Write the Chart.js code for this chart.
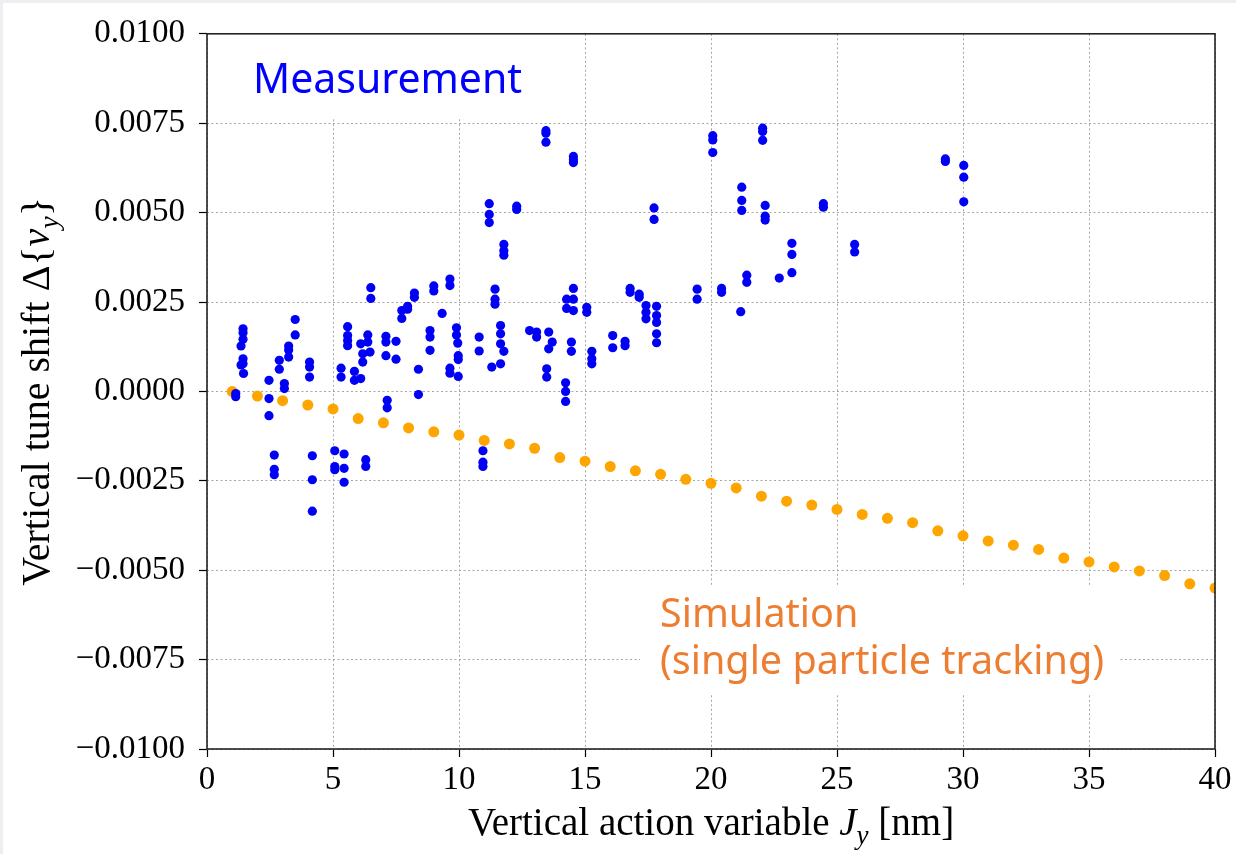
<!DOCTYPE html>
<html>
<head>
<meta charset="utf-8">
<title>Vertical tune shift</title>
<script src="https://cdn.jsdelivr.net/npm/chart.js@4.4.0/dist/chart.umd.min.js"></script>
<style>
  html, body { margin: 0; padding: 0; background: #fff; }
  #wrap { width: 1236px; height: 854px; }
</style>
</head>
<body>
<div id="wrap"><canvas id="tuneChart" width="1236" height="854"></canvas></div>
<script>
// measured tune shift vs. vertical action J_y [nm]
var measJ = [
  1.14, 1.14, 1.43, 1.43, 1.43, 1.35, 1.43, 1.43, 1.35, 1.45,
  2.46, 2.46, 2.46, 2.67, 2.67, 2.67, 2.87, 2.87, 3.07, 3.07,
  3.24, 3.24, 3.24, 3.50, 3.50, 4.07, 4.07, 4.07, 4.18, 4.18, 4.18,
  5.07, 5.07, 5.07, 5.32, 5.32, 5.44, 5.44, 5.44,
  5.58, 5.58, 5.58, 5.58, 5.85, 5.85, 6.10, 6.10, 6.18, 6.18,
  6.38, 6.38, 6.47, 6.30, 6.30, 6.50, 6.50,
  7.10, 7.10, 7.10, 7.15, 7.15, 7.50, 7.50, 7.73, 7.73, 7.96, 7.96,
  8.23, 8.23, 8.39, 8.39, 8.85, 8.85, 8.85, 9.00, 9.00, 9.33,
  9.64, 9.64, 9.64, 9.64, 9.90, 9.90, 9.95, 9.97, 9.97, 9.97,
  10.95, 10.95, 10.95, 10.80, 10.80, 11.20, 11.20, 11.20, 11.30,
  11.43, 11.43, 11.43, 11.65, 11.65, 11.65, 11.65, 11.78,
  11.78, 11.78, 11.78, 12.29, 12.29, 12.80, 13.08, 13.08,
  13.45, 13.45, 13.45, 13.48, 13.48, 13.56, 13.56, 13.70,
  14.23, 14.23, 14.23, 14.27, 14.27, 14.46, 14.46, 14.54, 14.54, 14.54,
  14.54, 14.54, 14.54, 15.07, 15.07, 15.27, 15.27, 15.27,
  16.10, 16.10, 16.59, 16.59, 16.79, 16.79, 17.15, 17.15,
  17.42, 17.42, 17.42, 17.74, 17.74, 17.84, 17.84, 17.84, 17.84, 17.84,
  19.45, 19.45, 20.07, 20.07, 20.07, 20.42, 20.42,
  21.18, 21.22, 21.22, 21.22, 21.42, 21.42,
  22.05, 22.05, 22.05, 22.15, 22.15, 22.15, 22.71,
  23.21, 23.21, 23.21, 24.46, 24.46, 25.70, 25.70,
  29.30, 29.30, 30.03, 30.03, 30.03
];
var measShift = [
  -0.00015, -0.00006, 0.00175, 0.00164, 0.00146, 0.00127, 0.00091, 0.00077, 0.00074, 0.00050,
  0.00031, -0.00020, -0.00068, -0.00178, -0.00218, -0.00233, 0.00087, 0.00062, 0.00022, 0.00008,
  0.00127, 0.00116, 0.00096, 0.00201, 0.00158, 0.00082, 0.00068, 0.00040, -0.00180, -0.00247, -0.00335,
  -0.00166, -0.00210, -0.00219, 0.00065, 0.00040, -0.00175, -0.00215, -0.00254,
  0.00181, 0.00156, 0.00142, 0.00128, 0.00056, 0.00031, 0.00036, 0.00133, 0.00105, 0.00082,
  0.00158, 0.00138, 0.00110, -0.00191, -0.00210, 0.00290, 0.00260,
  0.00154, 0.00138, 0.00100, -0.00025, -0.00046, 0.00140, 0.00090, 0.00226, 0.00204, 0.00238, 0.00230,
  0.00275, 0.00263, 0.00062, -0.00009, 0.00170, 0.00152, 0.00115, 0.00295, 0.00281, 0.00218,
  0.00314, 0.00296, 0.00065, 0.00051, 0.00178, 0.00158, 0.00135, 0.00100, 0.00089, 0.00042,
  -0.00166, -0.00198, -0.00210, 0.00152, 0.00113, 0.00525, 0.00495, 0.00472, 0.00068,
  0.00286, 0.00258, 0.00244, 0.00184, 0.00161, 0.00133, 0.00077, 0.00112,
  0.00411, 0.00393, 0.00381, 0.00518, 0.00509, 0.00170, 0.00166, 0.00152,
  0.00729, 0.00722, 0.00697, 0.00063, 0.00040, 0.00166, 0.00119, 0.00138,
  0.00024, 0.00000, -0.00028, 0.00258, 0.00232, 0.00138, 0.00112, 0.00288, 0.00258, 0.00226,
  0.00657, 0.00648, 0.00640, 0.00235, 0.00221, 0.00112, 0.00091, 0.00077,
  0.00156, 0.00122, 0.00140, 0.00128, 0.00288, 0.00277, 0.00272, 0.00263,
  0.00240, 0.00221, 0.00203, 0.00513, 0.00481, 0.00238, 0.00212, 0.00193, 0.00161, 0.00136,
  0.00286, 0.00258, 0.00715, 0.00703, 0.00668, 0.00288, 0.00277,
  0.00223, 0.00571, 0.00534, 0.00506, 0.00325, 0.00305,
  0.00736, 0.00727, 0.00702, 0.00520, 0.00490, 0.00479, 0.00317,
  0.00414, 0.00383, 0.00332, 0.00525, 0.00515, 0.00411, 0.00390,
  0.00650, 0.00643, 0.00632, 0.00599, 0.00530
];

// single particle tracking, J_y = 1 ... 40 nm
var simJ = [
  1, 2, 3, 4, 5, 6, 7, 8, 9, 10,
  11, 12, 13, 14, 15, 16, 17, 18, 19, 20,
  21, 22, 23, 24, 25, 26, 27, 28, 29, 30,
  31, 32, 33, 34, 35, 36, 37, 38, 39, 40
];
var simShift = [
  0.00000, -0.00013, -0.00026, -0.00038, -0.00049, -0.00076, -0.00088, -0.00102, -0.00113, -0.00122,
  -0.00137, -0.00147, -0.00159, -0.00185, -0.00195, -0.00210, -0.00222, -0.00232, -0.00246, -0.00257,
  -0.00270, -0.00293, -0.00307, -0.00318, -0.00330, -0.00344, -0.00355, -0.00367, -0.00390, -0.00404,
  -0.00418, -0.00430, -0.00442, -0.00466, -0.00477, -0.00491, -0.00502, -0.00515, -0.00538, -0.00550
];

var xTickStep = 5;
var yTickStep = 0.0025;

function toPoints(xs, ys) {
  return xs.map(function (x, i) { return { x: x, y: ys[i] }; });
}

var SERIF = '"Liberation Serif", "DejaVu Serif", serif';
var SANS = '"Noto Sans", "Open Sans", sans-serif';

// draw a run of text pieces, some italic, some as subscripts
function drawRich(ctx, parts, cx, baseY, size) {
  var fontFor = function (p) {
    var s = p.sub ? Math.round(size * 0.7) : size;
    return (p.it ? 'italic ' : '') + s + 'px ' + SERIF;
  };
  var total = 0;
  parts.forEach(function (p) {
    ctx.font = fontFor(p);
    p.w = ctx.measureText(p.t).width;
    total += p.w;
  });
  var x = cx - total / 2;
  ctx.textAlign = 'left';
  ctx.textBaseline = 'alphabetic';
  parts.forEach(function (p) {
    ctx.font = fontFor(p);
    ctx.fillText(p.t, x, baseY + (p.sub ? size * 0.22 : 0));
    x += p.w;
  });
}

var decorations = {
  id: 'decorations',
  beforeDraw: function (chart) {
    var ctx = chart.ctx;
    ctx.save();
    ctx.fillStyle = '#eceef2';
    ctx.fillRect(0, 0, chart.width, chart.height);
    ctx.fillStyle = '#ffffff';
    ctx.fillRect(3, 3, chart.width - 3, chart.height - 3);
    ctx.restore();
  },
  beforeDatasetsDraw: function (chart) {
    var ctx = chart.ctx;
    ctx.save();
    // white boxes behind the two labels
    ctx.fillStyle = '#ffffff';
    ctx.fillRect(208, 34, 357, 84);
    ctx.fillRect(640, 585, 478, 110);

    ctx.textAlign = 'left';
    ctx.textBaseline = 'alphabetic';
    ctx.fillStyle = '#0000ff';
    ctx.font = '41px ' + SANS;
    ctx.fillText('Measurement', 253, 93);

    ctx.fillStyle = '#ed7d31';
    ctx.font = '39.5px ' + SANS;
    ctx.fillText('Simulation', 660, 627);
    ctx.fillText('(single particle tracking)', 660, 674);
    ctx.restore();
  },
  afterDraw: function (chart) {
    var ctx = chart.ctx;
    var a = chart.chartArea;
    ctx.save();
    ctx.strokeStyle = '#222';
    ctx.lineWidth = 1.6;
    ctx.strokeRect(a.left, a.top, a.right - a.left, a.bottom - a.top);

    ctx.fillStyle = '#000';
    drawRich(ctx, [
      { t: 'Vertical action variable ' },
      { t: 'J', it: true },
      { t: 'y', it: true, sub: true },
      { t: ' [nm]' }
    ], (a.left + a.right) / 2, 835, 39);

    ctx.translate(49, (a.top + a.bottom) / 2);
    ctx.rotate(-Math.PI / 2);
    drawRich(ctx, [
      { t: 'Vertical tune shift \u0394{' },
      { t: '\u03bd', it: true },
      { t: 'y', it: true, sub: true },
      { t: '}' }
    ], 0, 0, 40);
    ctx.restore();
  }
};

var gridOpts = {
  color: '#a6a6a6',
  lineWidth: 1,
  tickColor: '#000',
  tickLength: 8,
  tickWidth: 1.2,
  tickBorderDash: []
};

var ctx = document.getElementById('tuneChart').getContext('2d');
var tuneChart = new Chart(ctx, {
  type: 'scatter',
  data: {
    datasets: [
      {
        label: 'Measurement',
        data: toPoints(measJ, measShift),
        backgroundColor: '#0000f5',
        borderWidth: 0,
        pointRadius: 4.6,
        pointHoverRadius: 4.6,
        order: 0
      },
      {
        label: 'Simulation',
        data: toPoints(simJ, simShift),
        backgroundColor: '#ffa500',
        borderWidth: 0,
        pointRadius: 5.5,
        pointHoverRadius: 5.5,
        order: 1
      }
    ]
  },
  options: {
    responsive: false,
    animation: false,
    devicePixelRatio: 1,
    layout: { padding: { top: 30, right: 21, left: 0, bottom: 0 } },
    plugins: {
      legend: { display: false },
      tooltip: { enabled: false }
    },
    scales: {
      x: {
        type: 'linear',
        min: 0,
        max: 40,
        afterFit: function (scale) { scale.height = 105; },
        ticks: {
          stepSize: xTickStep,
          color: '#000',
          padding: 4,
          maxRotation: 0,
          font: { family: SERIF, size: 33 }
        },
        grid: gridOpts,
        border: { display: false, dash: [2, 2.5] }
      },
      y: {
        min: -0.01,
        max: 0.01,
        afterFit: function (scale) { scale.width = 207; },
        ticks: {
          stepSize: yTickStep,
          color: '#000',
          padding: 14,
          font: { family: SERIF, size: 33 },
          callback: function (v) {
            if (Math.abs(v) < 1e-9) return '0.0000';
            return (v < 0 ? '\u2212' : '') + Math.abs(v).toFixed(4);
          }
        },
        grid: gridOpts,
        border: { display: false, dash: [2, 2.5] }
      }
    }
  },
  plugins: [decorations]
});
</script>
</body>
</html>
